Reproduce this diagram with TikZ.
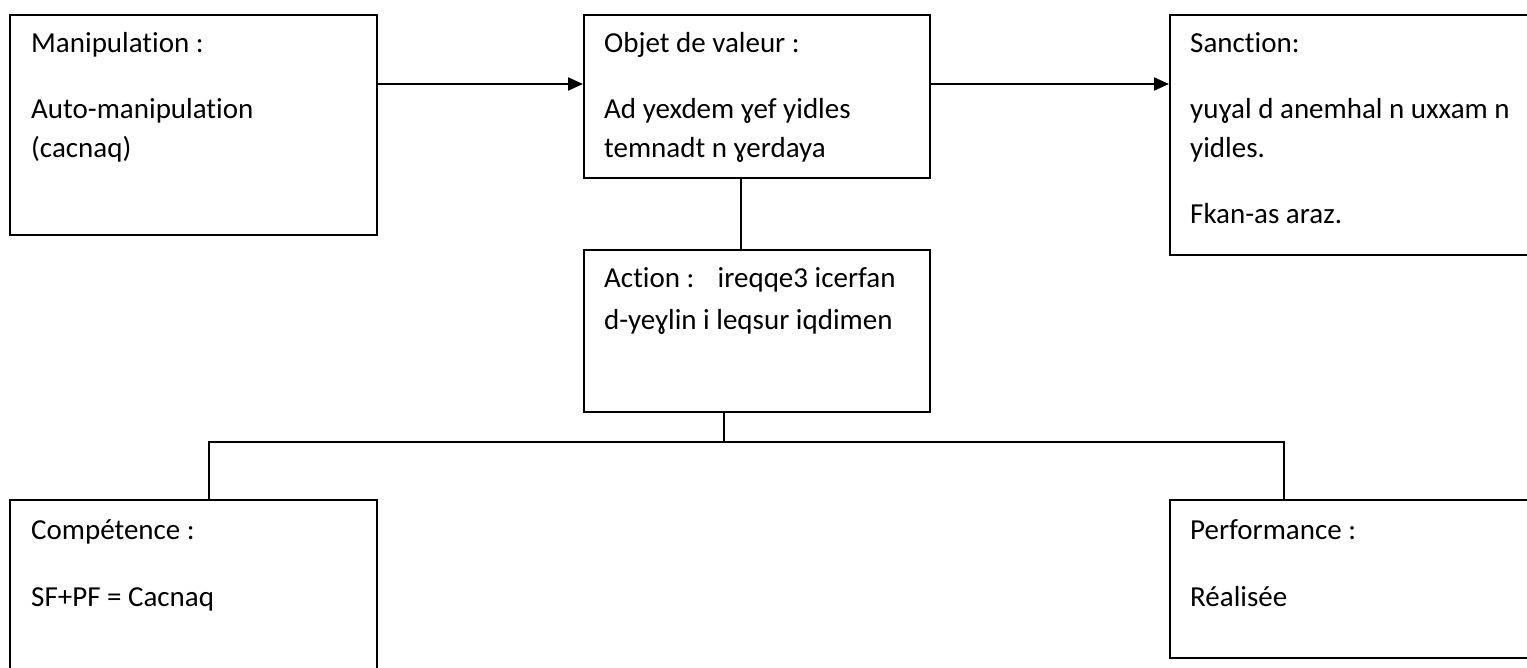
\documentclass[tikz,border=0pt]{standalone}
\usepackage{fontspec}
\setmainfont{Carlito}[Ligatures=NoCommon]
\usetikzlibrary{arrows.meta}
\begin{document}
\begin{tikzpicture}[x=1pt,y=-1pt,
  frame/.style={draw, line width=2pt, inner sep=0pt, anchor=north west},
  txt/.style={anchor=base west, inner sep=0pt, font=\fontsize{29}{40}\selectfont},
  link/.style={line width=2pt},
  flow/.style={line width=2pt, -{Triangle[length=15pt,width=13pt]}}]
\useasboundingbox (0,0) rectangle (1527,668);

% boxes of the narrative schema
\node[frame, minimum width=367pt, minimum height=220pt] (man)  at (9,14)    {};
\node[frame, minimum width=346pt, minimum height=163pt] (obj)  at (583,14)  {};
\node[frame, minimum width=370pt, minimum height=240pt] (san)  at (1169,14) {};
\node[frame, minimum width=346pt, minimum height=162pt] (act)  at (583,249) {};
\node[frame, minimum width=367pt, minimum height=180pt] (comp) at (9,499)   {};
\node[frame, minimum width=370pt, minimum height=158pt] (perf) at (1169,499){};

% texts
\node[txt] (t-man1) at (31,53)  {Manipulation :};
\node[txt] (t-man2) at (31,119) {Auto-manipulation};
\node[txt] (t-man3) at (31,158) {(cacnaq)};

\node[txt] (t-obj1) at (604,53)  {Objet de valeur :};
\node[txt] (t-obj2) at (604,119) {Ad yexdem ɣef yidles};
\node[txt] (t-obj3) at (604,158) {temnadt n ɣerdaya};

\node[txt] (t-san1) at (1190,53)  {Sanction:};
\node[txt] (t-san2) at (1190,119) {yuɣal d anemhal n uxxam n};
\node[txt] (t-san3) at (1190,158) {yidles.};
\node[txt] (t-san4) at (1190,224) {Fkan-as araz.};

\node[txt] (t-act1) at (604,288) {Action :\hspace{0.5em} ireqqe3 icerfan};
\node[txt] (t-act2) at (604,330) {d-yeɣlin i leqsur iqdimen};

\node[txt] (t-comp1) at (31,539) {Compétence :};
\node[txt] (t-comp2) at (31,606) {SF+PF = Cacnaq};

\node[txt] (t-perf1) at (1190,539) {Performance :};
\node[txt] (t-perf2) at (1190,606) {Réalisée};

% connectors
\draw[flow] ([yshift=-70pt]man.north east) -- ([yshift=-70pt]obj.north west);
\draw[flow] ([yshift=-70pt]obj.north east) -- ([yshift=-70pt]san.north west);
\draw[link] ([xshift=-16pt]obj.south) -- ([xshift=-16pt]obj.south |- act.north);
\coordinate (junc) at ([xshift=-33pt,yshift=-29pt]act.south);
\draw[link] ([xshift=-33pt]act.south) -- (junc);
\draw[link] ([xshift=15.5pt]comp.north) |- (junc) -| ([xshift=115pt]perf.north west);
\end{tikzpicture}
\end{document}
